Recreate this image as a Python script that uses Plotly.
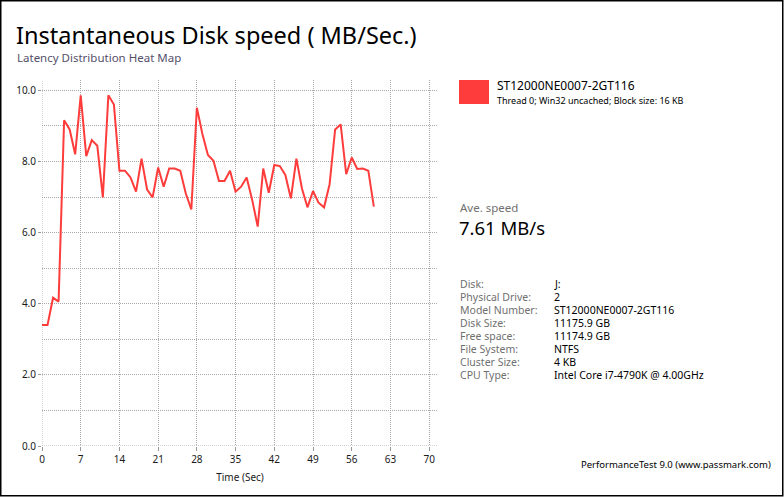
import plotly.graph_objects as go

# ---- data ----
time_sec = list(range(0, 61))
speed_mbs = [3.40, 3.40, 4.17, 4.06, 9.16, 8.90, 8.20, 9.86, 8.15, 8.60,
             8.44, 6.99, 9.86, 9.60, 7.74, 7.74, 7.55, 7.15, 8.08, 7.21,
             6.99, 7.83, 7.29, 7.80, 7.80, 7.74, 7.10, 6.65, 9.51, 8.77,
             8.18, 8.02, 7.45, 7.45, 7.74, 7.15, 7.29, 7.55, 6.92, 6.17,
             7.80, 7.12, 7.90, 7.87, 7.62, 6.96, 8.08, 7.24, 6.71, 7.17,
             6.84, 6.71, 7.36, 8.90, 9.04, 7.64, 8.11, 7.79, 7.80, 7.74,
             6.73]
x_ticks = [0, 7, 14, 21, 28, 35, 42, 49, 56, 63, 70]
y_ticks = [0, 2, 4, 6, 8, 10]
y_ticklabels = ["0.0", "2.0", "4.0", "6.0", "8.0", "10.0"]
y_minor = [1, 3, 5, 7, 9]

title_text = "Instantaneous Disk speed ( MB/Sec.)"
subtitle_text = "Latency Distribution Heat Map"
series_name = "ST12000NE0007-2GT116"
series_desc = "Thread 0; Win32 uncached; Block size: 16 KB"
avg_label = "Ave. speed"
avg_value = "7.61 MB/s"
info_labels = ["Disk:", "Physical Drive:", "Model Number:", "Disk Size:",
               "Free space:", "File System:", "Cluster Size:", "CPU Type:"]
info_values = ["J:", "2", "ST12000NE0007-2GT116", "11175.9 GB",
               "11174.9 GB", "NTFS", "4 KB", "Intel Core i7-4790K @ 4.00GHz"]
footer_text = "PerformanceTest 9.0 (www.passmark.com)"

# ---- layout geometry ----
FW, FH = 784, 497
L, R, T, B = 42, 346, 80, 51
PW, PH = FW - L - R, FH - T - B
RED = "#ff3c3c"
FONT = "Noto Sans"
GRID = "#a8a8a8"
DOT = "1px,1px"


def px(x):
    return (x - L) / PW


def py(y):
    return (FH - B - y) / PH


fig = go.Figure()
fig.add_trace(go.Scatter(x=time_sec, y=speed_mbs, mode="lines",
                         line=dict(color=RED, width=2), name=series_name,
                         showlegend=False, hoverinfo="x+y"))

ann = []


def text(x, y, s, size, color="#000000", xanchor="left", yanchor="middle"):
    ann.append(dict(x=px(x), y=py(y), xref="paper", yref="paper", text=s,
                    showarrow=False, xanchor=xanchor, yanchor=yanchor,
                    font=dict(family=FONT, size=size, color=color)))


text(14, 35, title_text, 23.5)
text(15, 57, subtitle_text, 11.5, "#55506a")
text(495, 85.5, series_name, 12)
text(495, 100.5, series_desc, 9)
text(458, 207, avg_label, 11.5, "#707070")
text(457, 227, avg_value, 18.5)
for i, (lab, val) in enumerate(zip(info_labels, info_values)):
    yy = 284 + 13 * i
    text(458, yy, lab, 10.5, "#707070")
    text(552, yy, val, 10.5, "#000000")
text(579, 464, footer_text, 9.5)

shapes = [
    # legend swatch
    dict(type="rect", xref="paper", yref="paper",
         x0=px(459), x1=px(489), y0=py(80), y1=py(104),
         fillcolor=RED, line=dict(width=0)),
    # outer frame
    dict(type="rect", xref="paper", yref="paper",
         x0=px(0.75), x1=px(FW - 1.25), y0=py(0.75), y1=py(FH - 1.25),
         fillcolor="rgba(0,0,0,0)", line=dict(color="#000000", width=1.5)),
    # dotted grid lines on the plot edges (x = 0 and y = 0)
    dict(type="line", xref="paper", yref="y", x0=0, x1=1, y0=0, y1=0,
         line=dict(color=GRID, width=1, dash=DOT), layer="below"),
    dict(type="line", xref="x", yref="paper", x0=0, x1=0, y0=0, y1=1,
         line=dict(color=GRID, width=1, dash=DOT), layer="below"),
]

fig.update_layout(
    width=FW, height=FH,
    margin=dict(l=L, r=R, t=T, b=B),
    paper_bgcolor="white", plot_bgcolor="white",
    font=dict(family=FONT, size=10, color="#1a1a1a"),
    annotations=ann, shapes=shapes,
    showlegend=False,
)
fig.update_xaxes(range=[0, 71.6], tickvals=x_ticks, ticks="outside", ticklen=4,
                 tickcolor="#999999", showline=False,
                 showgrid=True, gridcolor=GRID,
                 griddash=DOT, gridwidth=1, zeroline=False,
                 title=dict(text="Time (Sec)", font=dict(size=10), standoff=8),
                 tickfont=dict(size=10))
fig.update_yaxes(range=[0, 10.29], tickvals=y_ticks, ticktext=y_ticklabels,
                 ticks="outside", ticklen=3, tickcolor="#999999",
                 showline=False,
                 showgrid=True, gridcolor=GRID, griddash=DOT,
                 gridwidth=1, zeroline=False, tickfont=dict(size=10),
                 minor=dict(tickvals=y_minor, showgrid=True,
                            gridcolor=GRID, griddash=DOT, gridwidth=1))

fig.write_html("out.html", config={"displayModeBar": False},
               post_script="document.body.style.margin='0';"
                           "document.body.style.overflow='hidden';")
